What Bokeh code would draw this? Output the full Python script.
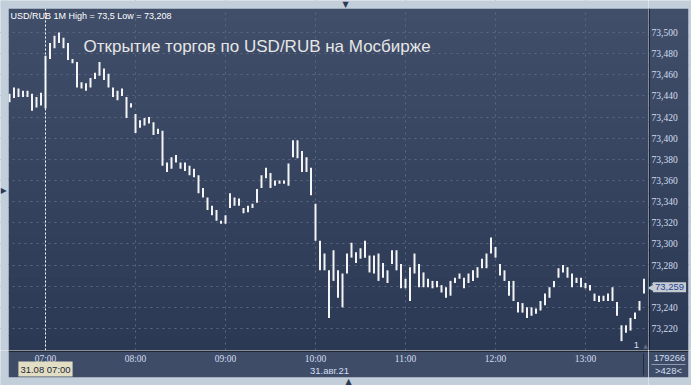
from bokeh.plotting import figure
from bokeh.models import (ColumnDataSource, BoxAnnotation, Label, Span, FixedTicker, Range1d)
from bokeh.layouts import row, column
from bokeh.embed import file_html
from bokeh.resources import INLINE

# ---------------- data (USD/RUB, 31.08.21, bars every 3 minutes) ----------------
start_min = 396          # 06:36 in minutes of day
step_min = 3
bar_high = [73.442, 73.448, 73.447, 73.445, 73.445, 73.442, 73.439, 73.443, 73.478, 73.490,
            73.497, 73.500, 73.495, 73.490, 73.475, 73.472, 73.453, 73.452, 73.457, 73.462,
            73.472, 73.466, 73.461, 73.448, 73.445, 73.447, 73.439, 73.433, 73.423, 73.417,
            73.419, 73.420, 73.415, 73.409, 73.407, 73.377, 73.382, 73.384, 73.377, 73.377,
            73.374, 73.371, 73.365, 73.353, 73.344, 73.336, 73.332, 73.322, 73.327, 73.348,
            73.344, 73.343, 73.334, 73.336, 73.338, 73.352, 73.365, 73.372, 73.367, 73.360,
            73.360, 73.360, 73.376, 73.398, 73.398, 73.388, 73.382, 73.372, 73.338, 73.303,
            73.291, 73.275, 73.294, 73.275, 73.272, 73.291, 73.301, 73.292, 73.296, 73.303,
            73.289, 73.289, 73.291, 73.282, 73.275, 73.294, 73.294, 73.281, 73.267, 73.278,
            73.291, 73.281, 73.273, 73.267, 73.265, 73.265, 73.261, 73.259, 73.265, 73.268,
            73.272, 73.268, 73.272, 73.275, 73.278, 73.286, 73.291, 73.306, 73.297, 73.281,
            73.275, 73.265, 73.265, 73.245, 73.244, 73.240, 73.240, 73.239, 73.246, 73.253,
            73.259, 73.265, 73.277, 73.280, 73.278, 73.272, 73.268, 73.268, 73.263, 73.261,
            73.253, 73.251, 73.251, 73.253, 73.259, 73.245, 73.223, 73.223, 73.230, 73.235,
            73.246, 73.267]
bar_low = [73.434, 73.438, 73.439, 73.439, 73.439, 73.426, 73.429, 73.431, 73.428, 73.475,
           73.485, 73.490, 73.485, 73.474, 73.471, 73.448, 73.447, 73.445, 73.448, 73.456,
           73.459, 73.455, 73.448, 73.439, 73.436, 73.440, 73.419, 73.429, 73.405, 73.410,
           73.412, 73.414, 73.403, 73.404, 73.374, 73.368, 73.371, 73.377, 73.371, 73.369,
           73.365, 73.363, 73.348, 73.344, 73.332, 73.327, 73.322, 73.319, 73.319, 73.334,
           73.336, 73.336, 73.329, 73.330, 73.334, 73.339, 73.353, 73.362, 73.353, 73.355,
           73.357, 73.357, 73.355, 73.382, 73.381, 73.368, 73.368, 73.346, 73.303, 73.275,
           73.275, 73.230, 73.265, 73.249, 73.240, 73.272, 73.287, 73.282, 73.286, 73.287,
           73.273, 73.272, 73.265, 73.268, 73.263, 73.281, 73.275, 73.258, 73.258, 73.246,
           73.272, 73.259, 73.259, 73.259, 73.258, 73.259, 73.254, 73.249, 73.251, 73.263,
           73.267, 73.258, 73.263, 73.265, 73.268, 73.277, 73.277, 73.291, 73.287, 73.270,
           73.265, 73.251, 73.246, 73.235, 73.235, 73.230, 73.232, 73.234, 73.237, 73.242,
           73.249, 73.259, 73.268, 73.273, 73.268, 73.259, 73.263, 73.259, 73.258, 73.256,
           73.246, 73.245, 73.246, 73.246, 73.246, 73.232, 73.208, 73.216, 73.218, 73.229,
           73.237, 73.253]
bar_time = [start_min + step_min * i for i in range(len(bar_high))]

hour_ticks = [420, 480, 540, 600, 660, 720, 780]
hour_labels = ["07:00", "08:00", "09:00", "10:00", "11:00", "12:00", "13:00"]
price_ticks = [73.22, 73.24, 73.26, 73.28, 73.30, 73.32, 73.34, 73.36, 73.38, 73.40,
               73.42, 73.44, 73.46, 73.48, 73.50]
price_labels = ["73,220", "73,240", "73,260", "73,280", "73,300", "73,320", "73,340", "73,360",
                "73,380", "73,400", "73,420", "73,440", "73,460", "73,480", "73,500"]
last_price = 73.259
last_price_label = "73,259"
cursor_time = 420
header_text = "USD/RUB 1M High = 73,5 Low = 73,208"
title_text = "Открытие торгов по USD/RUB на Мосбирже"
cursor_label = "31.08 07:00"
date_label = "31.авг.21"
volume_label = "179266"
count_label = ">428<"

# ---------------- styling ----------------
OUTER = "#c3cedb"
PANEL = "#3e4c68"
TOP_C = (0x40, 0x4e, 0x69)
BOT_C = (0x2b, 0x39, 0x54)
LABEL_C = "#d3def0"
GRID_C = "#5a6883"
FONT = "Liberation Sans"
FS = "9.5px"

X_RANGE = Range1d(390, 822)
Y_RANGE = Range1d(73.19915, 73.53027)


def base(w, h, xr, yr):
    f = figure(width=w, height=h, output_backend="svg", toolbar_location=None,
               x_range=xr, y_range=yr, x_axis_location=None, y_axis_location=None,
               min_border=0, min_border_left=0, min_border_right=0,
               min_border_top=0, min_border_bottom=0)
    f.background_fill_color = OUTER
    f.border_fill_color = OUTER
    f.outline_line_color = None
    f.xgrid.visible = False
    f.ygrid.visible = False
    return f


def box(f, l, r, b, t, color, level="image"):
    f.add_layout(BoxAnnotation(left=l, right=r, bottom=b, top=t,
                               left_units="screen", right_units="screen",
                               bottom_units="screen", top_units="screen",
                               fill_color=color, fill_alpha=1, line_color=None, level=level))


def gradient(f, l, r, b, t, n=24):
    for k in range(n):
        fr = k / (n - 1)
        c = tuple(int(round(BOT_C[j] + (TOP_C[j] - BOT_C[j]) * fr)) for j in range(3))
        y0 = b + (t - b) * k / n
        y1 = b + (t - b) * (k + 1) / n + (1 if k < n - 1 else 0)
        box(f, l, r, y0, y1, "#%02x%02x%02x" % c)


def label(f, x, y, text, color=LABEL_C, size=FS, align="left", font=FONT, xu="screen", yu="screen", **kw):
    f.add_layout(Label(x=x, y=y, x_units=xu, y_units=yu, text=text, text_color=color,
                       text_font=font, text_font_size=size, text_align=align,
                       text_baseline="middle", **kw))


# ---------------- main chart (window x 0..648, y 0..350) ----------------
fm = base(648, 350, X_RANGE, Y_RANGE)
gradient(fm, 8, 648, 0, 342)
fm.xgrid.visible = True
fm.ygrid.visible = True
fm.xgrid.ticker = FixedTicker(ticks=hour_ticks)
fm.ygrid.ticker = FixedTicker(ticks=price_ticks)
for g in (fm.xgrid, fm.ygrid):
    g.grid_line_color = GRID_C
    g.grid_line_dash = "2 4"
    g.grid_line_width = 1
src = ColumnDataSource(dict(t=bar_time, hi=bar_high, lo=bar_low))
fm.segment(x0="t", y0="lo", x1="t", y1="hi", source=src, line_color="#f4f4f4", line_width=2)
fm.add_layout(Span(location=cursor_time, dimension="height", line_color="white",
                   line_dash="2 2", line_width=1))
label(fm, 10, 335, header_text, color="white", size="9px")
label(fm, 83, 304, title_text, color="#e6e6e6", size="17px")
label(fm, 636, 6, "1", align="center")
label(fm, 645, 5, "▲", color="#5d6b84", size="6px", align="center", font="DejaVu Sans")
# outer light strips
box(fm, 0, 8, 0, 350, OUTER, level="annotation")
box(fm, 0, 648, 342, 350, OUTER, level="annotation")
label(fm, 345, 346, "▼", color="#2e3a52", size="8px", align="center", font="DejaVu Sans")
label(fm, 3, 160, "▶", color="#2e3a52", size="8px", align="center", font="DejaVu Sans")

# ---------------- price panel (window x 648..691, y 0..350) ----------------
fr = base(43, 350, Range1d(0, 43), Y_RANGE)
gradient(fr, 0, 40, 0, 342)
box(fr, 0, 1, 0, 342, "black", level="underlay")
fr.text(x=[3] * len(price_ticks), y=price_ticks, text=price_labels, text_color=LABEL_C,
        text_font=FONT, text_font_size=FS, text_baseline="middle", text_align="left")
label(fr, 21, last_price, last_price_label, color="#23449a", align="center", yu="data",
      background_fill_color="#c6cbd1", padding=2)
label(fr, 5, last_price, "◀", color="#c6cbd1", size="8px", align="right", yu="data",
      font="DejaVu Sans")
box(fr, 40, 43, 0, 350, OUTER, level="annotation")
box(fr, 0, 43, 342, 350, OUTER, level="annotation")

# ---------------- time panel (window x 0..648, y 350..385) ----------------
fb = base(648, 35, X_RANGE, Range1d(0, 35))
box(fb, 8, 648, 8, 35, PANEL)
box(fb, 8, 648, 34, 35, "black", level="underlay")
fb.text(x=hour_ticks, y=[27] * len(hour_ticks), text=hour_labels, text_color=LABEL_C,
        text_font=FONT, text_font_size=FS, text_baseline="middle", text_align="center")
label(fb, cursor_time, 16.5, cursor_label, color="#1a2638", align="center", xu="data",
      background_fill_color="#e2dec3", padding=2)
label(fb, 329, 15.5, date_label, align="center")
box(fb, 642.5, 643.5, 10, 32, "#222c3f", level="underlay")
box(fb, 0, 8, 0, 35, OUTER, level="annotation")
box(fb, 0, 648, 0, 8, OUTER, level="annotation")
label(fb, 348, 4, "▲", color="#2e3a52", size="8px", align="center", font="DejaVu Sans")

# ---------------- corner (window x 648..691, y 350..385) ----------------
fc = base(43, 35, Range1d(0, 43), Range1d(0, 35))
box(fc, 0, 40, 8, 35, PANEL)
box(fc, 0, 40, 34, 35, "black", level="underlay")
label(fc, 21, 28, volume_label, align="center")
box(fc, 3, 37, 20.5, 21.5, "#8d9ab0", level="underlay")
label(fc, 20, 15, count_label, align="center")
box(fc, 40, 43, 0, 35, OUTER, level="annotation")
box(fc, 0, 43, 0, 8, OUTER, level="annotation")

layout = column(row(fm, fr), row(fb, fc))
open("out.html", "w").write(file_html(layout, INLINE))
